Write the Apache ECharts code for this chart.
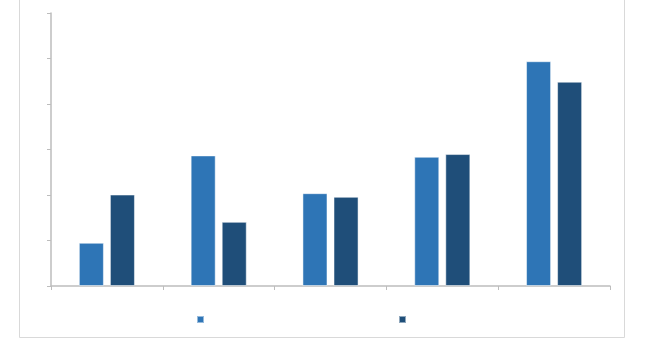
<!DOCTYPE html>
<html>
<head>
<meta charset="utf-8">
<script src="https://cdn.jsdelivr.net/npm/echarts@6/dist/echarts.min.js"></script>
<style>
html,body{margin:0;padding:0;background:#fff;}
#c{width:649px;height:342px;}
</style>
</head>
<body>
<div id="c"></div>
<script>
const categories = ['A', 'B', 'C', 'D', 'E'];
const series1Values = [0.95, 2.87, 2.04, 2.84, 4.94];
const series2Values = [2.01, 1.41, 1.96, 2.90, 4.49];
const seriesNames = ['Series 1', 'Series 2'];

const chart = echarts.init(document.getElementById('c'), null, {renderer: 'canvas'});
const axisColor = '#bdbdbd';
chart.setOption({
  animation: false,
  backgroundColor: '#ffffff',
  graphic: [{
    type: 'rect',
    shape: {x: 19.5, y: -10, width: 605, height: 347.5},
    style: {fill: 'none', stroke: '#d9d9d9', lineWidth: 1},
    silent: true
  }],
  grid: {left: 51, top: 13, right: 39, bottom: 56},
  legend: [
    {data: [seriesNames[0]], left: 196, top: 315, itemWidth: 7, itemHeight: 7, icon: 'rect', formatter: function(){return '';}, padding: 0, selectedMode: false},
    {data: [seriesNames[1]], left: 398, top: 315, itemWidth: 7, itemHeight: 7, icon: 'rect', formatter: function(){return '';}, padding: 0, selectedMode: false}
  ],
  xAxis: {
    type: 'category',
    data: categories,
    boundaryGap: true,
    axisLine: {lineStyle: {color: axisColor, width: 1.5}},
    axisTick: {show: true, alignWithLabel: false, length: 4, lineStyle: {color: axisColor}},
    axisLabel: {show: false},
    splitLine: {show: false}
  },
  yAxis: {
    type: 'value',
    min: 0, max: 6, interval: 1,
    axisLine: {show: true, lineStyle: {color: axisColor, width: 1.5}},
    axisTick: {show: true, length: 4, lineStyle: {color: axisColor}},
    axisLabel: {show: false},
    splitLine: {show: false}
  },
  series: [
    {name: seriesNames[0], type: 'bar', data: series1Values, barWidth: '22.4%', barGap: '24%',
     itemStyle: {color: '#2E75B6', borderColor: 'rgba(255,255,255,0.5)', borderWidth: 1}},
    {name: seriesNames[1], type: 'bar', data: series2Values, barWidth: '22.4%', barGap: '24%',
     itemStyle: {color: '#1F4E79', borderColor: 'rgba(255,255,255,0.5)', borderWidth: 1}}
  ]
});
</script>
</body>
</html>
